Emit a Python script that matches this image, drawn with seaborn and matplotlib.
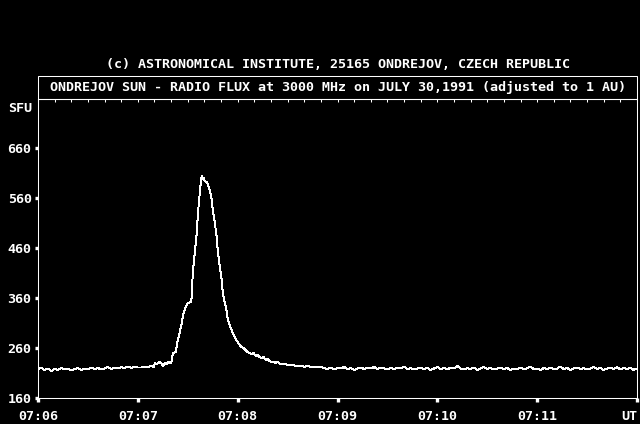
import matplotlib
matplotlib.use("Agg")
import matplotlib.pyplot as plt
from matplotlib.patches import Rectangle
from matplotlib.ticker import MultipleLocator, FixedLocator
import seaborn as sns
import pandas as pd

# ---- data (seconds after 07:06:00 UT, flux in SFU) ----
sec_pre = list(range(0, 61, 2))
flux_pre = [218, 220, 216, 219, 214, 218, 216, 220, 217, 219, 215, 218, 220, 216, 219,
            217, 221, 218, 220, 217, 219, 222, 218, 221, 219, 222, 220, 223, 220, 222, 221]

sec_burst = [62, 64, 66, 68, 69.6, 70.2, 71.4, 73.2, 74.4, 75, 76.2, 77.4, 78.6, 79.8, 80.4,
             81, 82.8, 84, 85.2, 86.4, 87.6, 88.8, 89.4, 90, 91.8, 92.4, 93, 94.2, 95.4, 96,
             96.6, 97.2, 97.8, 98.4, 99, 99.6, 100.2, 101.4, 102, 103.2, 104.4, 105, 106.2,
             107.4, 108, 109.2, 110.4, 111, 112.2, 113.4, 114, 115.2, 116.4, 117.6, 118.8,
             120, 121.2, 122.4, 123.6, 124.8, 126, 127.2, 128.4, 129.6, 130.8, 132, 133.2,
             134.4, 135.6, 136.8, 138, 139.2, 140.4, 141.6, 142.8, 144, 145.2, 146.4, 148,
             150, 152, 154, 156, 158, 160, 162, 164, 166, 168, 170]
flux_burst = [221, 223, 222, 224, 222, 230, 228, 232, 229, 224, 230, 228, 233, 230, 234,
              250, 252, 276, 292, 310, 332, 342, 346, 350, 352, 362, 410, 450, 490, 522,
              548, 570, 590, 604, 598, 600, 594, 592, 588, 576, 556, 538, 512,
              482, 456, 424, 396, 372, 352, 334, 318, 306, 296, 286, 278,
              272, 266, 262, 260, 256, 252, 250, 248, 250, 244, 246, 242,
              240, 242, 236, 238, 234, 232, 233, 230, 232, 229, 228, 229,
              226, 227, 225, 224, 225, 222, 224, 222, 223, 221, 222]

sec_post = list(range(172, 361, 2))
flux_post = [220, 218, 221, 217, 220, 219, 222, 218, 220, 216, 219, 221, 218, 220, 219, 222, 218, 221, 219, 217,
             220, 218, 221, 219, 223, 218, 220, 217, 219, 221, 218, 220, 216, 219, 222, 218, 220, 217, 221, 219,
             224, 219, 217, 220, 218, 221, 216, 219, 222, 218, 220, 217, 219, 221, 218, 220, 216, 219, 218, 221,
             217, 220, 222, 218, 219, 216, 220, 218, 221, 217, 219, 223, 218, 220, 216, 219, 221, 218, 220, 217,
             219, 222, 218, 220, 216, 219, 221, 218, 222, 217, 220, 218, 221, 216, 219]

seconds = sec_pre + sec_burst + sec_post
flux = flux_pre + flux_burst + flux_post

x_major = [0, 60, 120, 180, 240, 300, 360]
x_labels = ["07:06", "07:07", "07:08", "07:09", "07:10", "07:11", "UT"]
y_major = [160, 260, 360, 460, 560, 660]
y_labels = ["160", "260", "360", "460", "560", "660"]

title_top = "(c) ASTRONOMICAL INSTITUTE, 25165 ONDREJOV, CZECH REPUBLIC"
title_box = "ONDREJOV SUN - RADIO FLUX at 3000 MHz on JULY 30,1991 (adjusted to 1 AU)"
unit_label = "SFU"

# ---- style ----
sns.set_style("dark", rc={
    "axes.facecolor": "black",
    "figure.facecolor": "black",
    "axes.edgecolor": "white",
    "text.color": "white",
    "xtick.color": "white",
    "ytick.color": "white",
    "axes.grid": False,
})
plt.rcParams["font.family"] = ["DejaVu Sans Mono", "DejaVu Sans"]
plt.rcParams["font.weight"] = "bold"
FS = 9.65
LW = 0.75

W, H = 640, 424
fig = plt.figure(figsize=(6.4, 4.24), dpi=100)
L, R, B, T = 38, 637, 398, 99
ax = fig.add_axes([L / W, 1 - B / H, (R - L) / W, (B - T) / H])

df = pd.DataFrame({"seconds": seconds, "flux": flux})
sns.lineplot(data=df, x="seconds", y="flux", ax=ax, color="white", linewidth=0.7,
             antialiased=False, estimator=None, sort=False)

ax.set_xlim(0, 360)
ax.set_ylim(160, 758)
ax.set_xlabel("")
ax.set_ylabel("")

for s in ax.spines.values():
    s.set_color("white")
    s.set_linewidth(LW)

ax.xaxis.set_major_locator(FixedLocator(x_major))
ax.set_xticklabels(x_labels, fontsize=FS, fontweight="bold")
ax.xaxis.set_minor_locator(MultipleLocator(10))
ax.yaxis.set_major_locator(FixedLocator(y_major))
ax.set_yticklabels(y_labels, fontsize=FS, fontweight="bold")
ax.yaxis.set_minor_locator(MultipleLocator(20))

ax.tick_params(axis="x", which="major", direction="out", length=3, width=2.4, pad=5.5)
ax.tick_params(axis="x", which="minor", direction="out", length=2.2, width=0.75)
ax.tick_params(axis="y", which="major", direction="out", length=2.4, width=2.4, pad=2.2)
ax.tick_params(axis="y", which="minor", direction="out", length=1.2, width=0.75)
ax.tick_params(bottom=True, left=True, top=False, right=False)
lbls = ax.get_xticklabels()
lbls[-1].set_horizontalalignment("right")
lbls[-1].set_x(360)

sec = ax.secondary_xaxis("top")
sec.xaxis.set_major_locator(MultipleLocator(10))
sec.tick_params(direction="in", length=2.2, width=0.75, labeltop=False, colors="white")
sec.spines["top"].set_color("white")
sec.spines["top"].set_linewidth(LW)

# title box
fig.patches.append(Rectangle((L / W, 1 - T / H), (R - L) / W, (T - 76) / H,
                             transform=fig.transFigure, fill=False,
                             edgecolor="white", linewidth=LW))
fig.text((L + R) / 2 / W + 0.5 / W, 1 - 87.5 / H, title_box, ha="center", va="center",
         fontsize=FS, fontweight="bold", color="white")
fig.text(338.5 / W, 1 - 64 / H, title_top, ha="center", va="center",
         fontsize=FS, fontweight="bold", color="white")
fig.text(32.5 / W, 1 - 108 / H, unit_label, ha="right", va="center",
         fontsize=FS, fontweight="bold", color="white")

fig.savefig("out.png", dpi=100, facecolor="black")
